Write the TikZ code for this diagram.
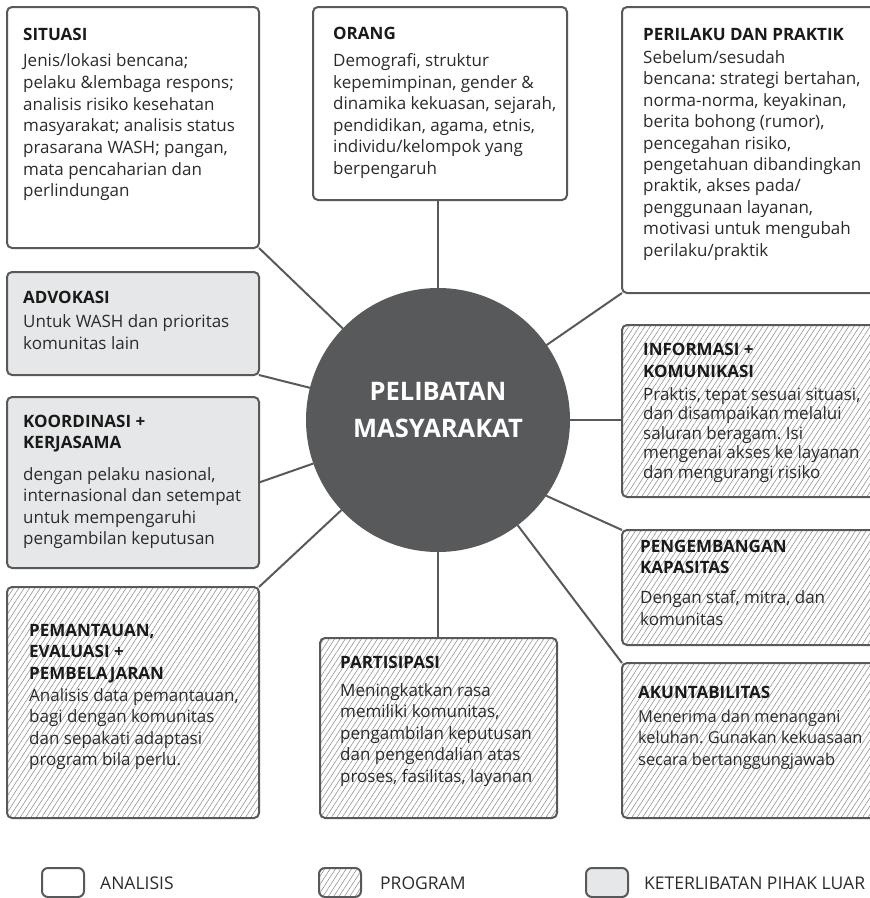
\documentclass[tikz,border=0pt]{standalone}
\usepackage{fontspec}
\setmainfont{Open Sans}
\usetikzlibrary{patterns.meta,backgrounds}
\frenchspacing

\definecolor{edge}{HTML}{58595B}
\definecolor{hubfill}{HTML}{58595B}
\definecolor{greyfill}{HTML}{E6E7E8}
\definecolor{hatch}{HTML}{959595}
\definecolor{bodytext}{HTML}{2B2B2B}
\definecolor{headtext}{HTML}{1A1A1A}

\newcommand\paneltitle[1]{{\color{headtext}\bfseries #1}}

\tikzset{
  panel/.style={draw=edge, line width=2pt, rounded corners=5pt, inner sep=0pt,
    outer sep=0pt, anchor=north west},
  analysis/.style={panel, fill=white},
  outreach/.style={panel, fill=greyfill},
  programme/.style={panel, preaction={fill=white},
    pattern={Lines[angle=57,distance=4.5pt,line width=0.6pt]}, pattern color=hatch},
  link/.style={draw=edge, line width=2pt},
  paneltext/.style={anchor=base west, inner sep=0pt, text=bodytext,
    font=\fontsize{17}{21.5}\selectfont\frenchspacing},
  keytext/.style={anchor=west, inner sep=0pt, text=bodytext,
    font=\fontsize{17.5}{20}\selectfont},
}

\begin{document}
\begin{tikzpicture}[x=1pt, y=-1pt]
\useasboundingbox (0,0) rectangle (870,898);
\clip (0,0) rectangle (870,898);

% ---------- central hub ----------
\node[circle, fill=hubfill, minimum size=264pt, inner sep=0pt, outer sep=0pt] (hub) at (438,420) {};
\node[anchor=base, inner sep=0pt, text=white, font=\fontsize{25.5}{37}\selectfont\bfseries] (hubtxt) at (438,400)
  {\begin{tabular}[t]{@{}c@{}}PELIBATAN\\MASYARAKAT\end{tabular}};

% ---------- panels ----------
\node[analysis, minimum width=252pt, minimum height=241pt] (situasi) at (7,7) {};
\node[analysis, minimum width=254pt, minimum height=193pt] (orang) at (313,7) {};
\node[analysis, minimum width=256pt, minimum height=286pt] (perilaku) at (622,7) {};
\node[outreach, minimum width=252pt, minimum height=103pt] (advokasi) at (7,272) {};
\node[outreach, minimum width=252pt, minimum height=171pt] (koordinasi) at (7,397) {};
\node[programme, minimum width=252pt, minimum height=231pt] (pemantauan) at (7,587) {};
\node[programme, minimum width=237pt, minimum height=180pt] (partisipasi) at (320,638) {};
\node[programme, minimum width=256pt, minimum height=172pt] (informasi) at (622,325) {};
\node[programme, minimum width=256pt, minimum height=115pt] (pengembangan) at (622,530) {};
\node[programme, minimum width=256pt, minimum height=155pt] (akuntabilitas) at (622,663) {};

% ---------- connectors ----------
\begin{scope}[on background layer]
\draw[link] (situasi.south east) -- (hub);
\draw[link] (hub.north) -- (hub.north |- orang.south);
\draw[link] (perilaku.south west) -- (hub);
\draw[link] (advokasi.south east) -- (hub);
\draw[link] (koordinasi.east) -- (hub);
\draw[link] (pemantauan.north east) -- (hub);
\draw[link] (hub.south) -- (hub.south |- partisipasi.north);
\draw[link] (hub.east) -- (hub.east -| informasi.west);
\draw[link] (hub.-35) -- (pengembangan.north west);
\draw[link] (akuntabilitas.north west) -- (hub);
\end{scope}

% ---------- panel texts ----------
\node[paneltext, font=\fontsize{17}{21.7}\selectfont\frenchspacing] (situasi-t) at (23,40) {\begin{tabular}[t]{@{}l@{}}
\paneltitle{SITUASI}\\[5pt]
Jenis/lokasi bencana;\\
pelaku \&lembaga respons;\\
analisis risiko kesehatan\\
masyarakat; analisis status\\
prasarana WASH; pangan,\\
mata pencaharian dan\\
perlindungan
\end{tabular}};

\node[paneltext] (orang-t) at (333,39) {\begin{tabular}[t]{@{}l@{}}
\paneltitle{ORANG}\\[6pt]
Demografi, struktur\\
kepemimpinan, gender \&\\
dinamika kekuasan, sejarah,\\
pendidikan, agama, etnis,\\
individu/kelompok yang\\
berpengaruh
\end{tabular}};

\node[paneltext, font=\fontsize{17}{21.4}\selectfont\frenchspacing] (perilaku-t) at (643,40) {\begin{tabular}[t]{@{}l@{}}
\paneltitle{PERILAKU DAN PRAKTIK}\\[2pt]
Sebelum/sesudah\\
bencana: strategi bertahan,\\
norma-norma, keyakinan,\\
berita bohong (rumor),\\
pencegahan risiko,\\
pengetahuan dibandingkan\\
praktik, akses pada/\\
penggunaan layanan,\\
motivasi untuk mengubah\\
perilaku/praktik
\end{tabular}};

\node[paneltext, font=\fontsize{17}{22}\selectfont\frenchspacing] (advokasi-t) at (23,303) {\begin{tabular}[t]{@{}l@{}}
\paneltitle{ADVOKASI}\\[2pt]
Untuk WASH dan prioritas\\
komunitas lain
\end{tabular}};

\node[paneltext] (koordinasi-t) at (23,427) {\begin{tabular}[t]{@{}l@{}}
\paneltitle{KOORDINASI +}\\
\paneltitle{KERJASAMA}\\[10pt]
dengan pelaku nasional,\\
internasional dan setempat\\
untuk mempengaruhi\\
pengambilan keputusan
\end{tabular}};

\node[paneltext] (pemantauan-t) at (29,636) {\begin{tabular}[t]{@{}l@{}}
\paneltitle{PEMANTAUAN,}\\
\paneltitle{EVALUASI +}\\
\paneltitle{PEMBELAJARAN}\\[0.5pt]
Analisis data pemantauan,\\
bagi dengan komunitas\\
dan sepakati adaptasi\\
program bila perlu.
\end{tabular}};

\node[paneltext] (partisipasi-t) at (340,668) {\begin{tabular}[t]{@{}l@{}}
\paneltitle{PARTISIPASI}\\[6.5pt]
Meningkatkan rasa\\
memiliki komunitas,\\
pengambilan keputusan\\
dan pengendalian atas\\
proses, fasilitas, layanan
\end{tabular}};

\node[paneltext, font=\fontsize{17}{19.5}\selectfont\frenchspacing] (informasi-t) at (643,355) {\begin{tabular}[t]{@{}l@{}}
\paneltitle{INFORMASI +}\\[2.5pt]
\paneltitle{KOMUNIKASI}\\[3.5pt]
Praktis, tepat sesuai situasi,\\
dan disampaikan melalui\\
saluran beragam. Isi\\
mengenai akses ke layanan\\
dan mengurangi risiko
\end{tabular}};

\node[paneltext] (pengembangan-t) at (640,552) {\begin{tabular}[t]{@{}l@{}}
\paneltitle{PENGEMBANGAN}\\
\paneltitle{KAPASITAS}\\[8.5pt]
Dengan staf, mitra, dan\\
komunitas
\end{tabular}};

\node[paneltext, font=\fontsize{16.4}{21.7}\selectfont\frenchspacing] (akuntabilitas-t) at (638,698) {\begin{tabular}[t]{@{}l@{}}
\paneltitle{\fontsize{17}{21.7}\selectfont AKUNTABILITAS}\\[2.5pt]
Menerima dan menangani\\
keluhan. Gunakan kekuasaan\\
secara bertanggungjawab
\end{tabular}};

% ---------- key ----------
\node[analysis, minimum width=42pt, minimum height=29pt, rounded corners=6pt] (key-an) at (42,868) {};
\node[keytext] (key-an-t) at (100,883) {ANALISIS};
\node[programme, minimum width=42pt, minimum height=29pt, rounded corners=6pt] (key-pr) at (319,868) {};
\node[keytext] (key-pr-t) at (380,883) {PROGRAM};
\node[outreach, minimum width=42pt, minimum height=29pt, rounded corners=6pt] (key-ex) at (586,868) {};
\node[keytext] (key-ex-t) at (644,883) {KETERLIBATAN PIHAK LUAR};
\end{tikzpicture}
\end{document}
